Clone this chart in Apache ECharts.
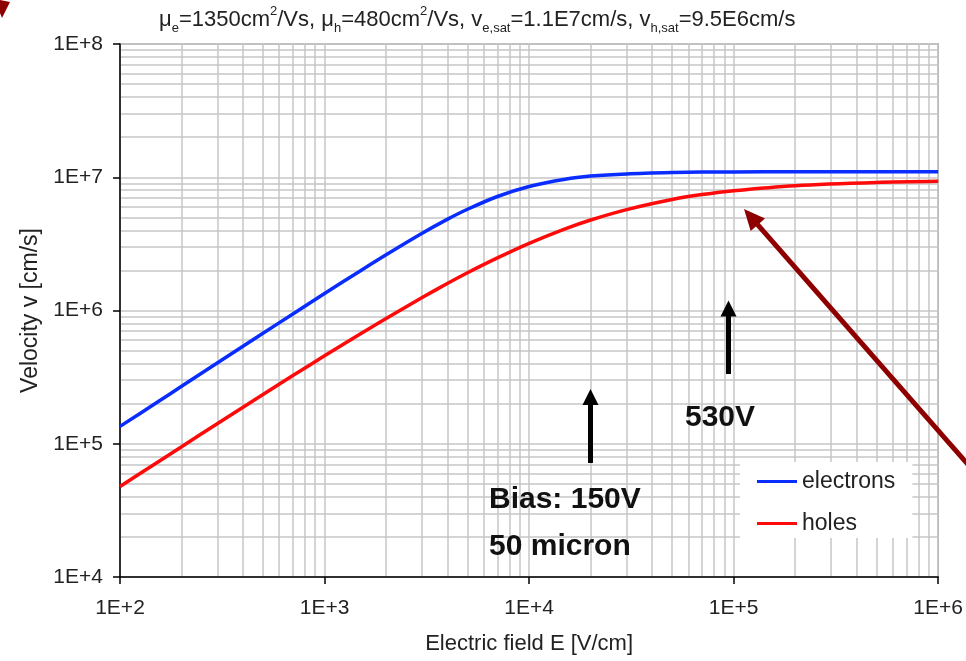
<!DOCTYPE html>
<html>
<head>
<meta charset="utf-8">
<title>Drift velocity vs electric field</title>
<script src="https://cdn.jsdelivr.net/npm/echarts@6/dist/echarts.min.js"></script>
<style>
  html, body { margin: 0; padding: 0; background: #fff; }
  #chart { width: 966px; height: 661px; }
</style>
</head>
<body>
<div id="chart"></div>
<script>
// Electric field sample points [V/cm]
const fieldValues = [100, 150, 200, 300, 500, 700, 1000, 1500, 2000, 3000, 4000, 5000, 7000,
  1e4, 1.5e4, 2e4, 3e4, 5e4, 7e4, 1e5, 2e5, 5e5, 1e6];

// Electron drift velocity [cm/s]
const electronVelocity = [1.35e5, 2.02e5, 2.70e5, 4.05e5, 6.74e5, 9.42e5, 1.34e6, 1.99e6, 2.62e6,
  3.80e6, 4.85e6, 5.75e6, 7.17e6, 8.53e6, 9.67e6, 1.02e7, 1.06e7, 1.085e7, 1.093e7, 1.096e7,
  1.099e7, 1.10e7, 1.10e7];

// Hole drift velocity [cm/s]
const holeVelocity = [4.78e4, 7.15e4, 9.50e4, 1.42e5, 2.34e5, 3.25e5, 4.57e5, 6.69e5, 8.72e5,
  1.25e6, 1.60e6, 1.92e6, 2.48e6, 3.19e6, 4.10e6, 4.78e6, 5.72e6, 6.81e6, 7.41e6, 7.93e6,
  8.65e6, 9.14e6, 9.32e6];

const seriesNames = ['electrons', 'holes'];

// Minor grid positions (2..9 within each decade)
const xMinorGrid = [];
for (const d of [1e2, 1e3, 1e4, 1e5]) for (let k = 2; k <= 9; k++) xMinorGrid.push(k * d);
const yMinorGrid = [];
for (const d of [1e4, 1e5, 1e6, 1e7]) for (let k = 2; k <= 9; k++) yMinorGrid.push(k * d);

const FONT = '"Liberation Sans", Arial, Helvetica, sans-serif';
const gridColor = '#c6c6c6';

const chart = echarts.init(document.getElementById('chart'), null, { renderer: 'canvas' });

const expLabel = v => '1E+' + Math.round(Math.log10(v));

// Title with sub/superscripts
const titleText = 'μ{sub|e}=1350cm{sup|2}/Vs, μ{sub|h}=480cm{sup|2}/Vs, ' +
  'v{sub|e,sat}=1.1E7cm/s, v{sub|h,sat}=9.5E6cm/s';

// Arrow helper for annotations
function arrow(x1, y1, x2, y2, color, width, headLen, headHalf) {
  const dx = x2 - x1, dy = y2 - y1;
  const len = Math.hypot(dx, dy);
  const ux = dx / len, uy = dy / len;
  const bx = x2 - ux * headLen, by = y2 - uy * headLen;
  const px = -uy * headHalf, py = ux * headHalf;
  return [
    { type: 'line', z: 100, silent: true,
      shape: { x1: x1, y1: y1, x2: bx + ux * 2, y2: by + uy * 2 },
      style: { stroke: color, lineWidth: width } },
    { type: 'polygon', z: 100, silent: true,
      shape: { points: [[x2, y2], [bx + px, by + py], [bx - px, by - py]] },
      style: { fill: color } }
  ];
}

function boldText(x, baseline, str) {
  return { type: 'text', z: 100, silent: true, x: x, y: baseline - 10.5,
    style: { text: str, font: 'bold 30px ' + FONT, fill: '#111',
      align: 'left', verticalAlign: 'middle' } };
}

const graphics = [].concat(
  arrow(590.5, 463, 590.5, 389, '#000', 5, 16, 8),
  arrow(728.5, 374, 728.5, 300.5, '#000', 5, 16, 8),
  arrow(985, 484, 744, 209, '#8e0000', 5, 21, 9.5),
  [
    { type: 'polygon', z: 100, silent: true,
      shape: { points: [[0, 0], [10, 2], [2, 18], [0, 13]] }, style: { fill: '#8e0000' } },
    boldText(685, 428, '530V'),
    boldText(489, 510, 'Bias: 150V'),
    boldText(489, 557, '50 micron')
  ]
);

const option = {
  animation: false,
  backgroundColor: '#fff',
  textStyle: { fontFamily: FONT },
  title: {
    text: titleText,
    left: 154,
    top: 0,
    textStyle: {
      fontFamily: FONT, fontSize: 22, fontWeight: 'normal', color: '#222',
      lineHeight: 30,
      rich: {
        sub: { fontSize: 13, lineHeight: 12, verticalAlign: 'bottom', color: '#222', fontFamily: FONT },
        sup: { fontSize: 13, lineHeight: 22, verticalAlign: 'top', color: '#222', fontFamily: FONT }
      }
    }
  },
  grid: {
    left: 120, right: 26, top: 44, bottom: 84,
    show: true, borderColor: '#9a9a9a', borderWidth: 1.5, backgroundColor: 'transparent'
  },
  legend: {
    data: seriesNames,
    orient: 'vertical',
    left: 740, top: 462,
    padding: [8, 17, 3, 17],
    backgroundColor: '#fff',
    itemWidth: 40, itemHeight: 3, itemGap: 19,
    icon: 'rect',
    textStyle: { fontFamily: FONT, fontSize: 23, color: '#222' },
    z: 10
  },
  xAxis: {
    type: 'log', logBase: 10, min: 100, max: 1e6, interval: 1,
    name: 'Electric field E [V/cm]', nameLocation: 'middle', nameGap: 56,
    nameTextStyle: { fontFamily: FONT, fontSize: 22, color: '#222' },
    axisLine: { show: true, onZero: false, lineStyle: { color: '#000', width: 1.5 } },
    axisTick: { show: true, length: 7, inside: false, lineStyle: { color: '#000', width: 1.5 } },
    axisLabel: { formatter: expLabel, fontFamily: FONT, fontSize: 21, color: '#222', margin: 21 },
    splitLine: { show: true, lineStyle: { color: gridColor, width: 1.5 } },
    minorTick: { show: false }, minorSplitLine: { show: false }
  },
  yAxis: {
    type: 'log', logBase: 10, min: 1e4, max: 1e8, interval: 1,
    name: 'Velocity v [cm/s]', nameLocation: 'middle', nameGap: 78, nameRotate: 90,
    nameTextStyle: { fontFamily: FONT, fontSize: 23, color: '#222' },
    axisLine: { show: true, onZero: false, lineStyle: { color: '#000', width: 1.5 } },
    axisTick: { show: true, length: 7, inside: false, lineStyle: { color: '#000', width: 1.5 } },
    axisLabel: { formatter: expLabel, fontFamily: FONT, fontSize: 21, color: '#222', margin: 17 },
    splitLine: { show: true, lineStyle: { color: gridColor, width: 1.5 } },
    minorTick: { show: false }, minorSplitLine: { show: false }
  },
  series: [
    {
      // minor grid lines at 2..9 of every decade, kept beneath the curves
      type: 'line', name: 'grid', data: [], silent: true, z: 0,
      markLine: {
        silent: true, symbol: ['none', 'none'], animation: false, z: 0,
        label: { show: false },
        lineStyle: { color: gridColor, width: 1.5, type: 'solid' },
        emphasis: { disabled: true },
        data: xMinorGrid.map(v => ({ xAxis: v })).concat(yMinorGrid.map(v => ({ yAxis: v })))
      }
    },
    {
      name: seriesNames[0], type: 'line', z: 8,
      data: fieldValues.map((e, i) => [e, electronVelocity[i]]),
      showSymbol: false, smooth: 0.3,
      lineStyle: { color: '#0a2dff', width: 3.5 }, itemStyle: { color: '#0a2dff' }
    },
    {
      name: seriesNames[1], type: 'line', z: 8,
      data: fieldValues.map((e, i) => [e, holeVelocity[i]]),
      showSymbol: false, smooth: 0.3,
      lineStyle: { color: '#ff0a0a', width: 3.5 }, itemStyle: { color: '#ff0a0a' }
    }
  ],
  graphic: graphics
};

chart.setOption(option);
</script>
</body>
</html>
